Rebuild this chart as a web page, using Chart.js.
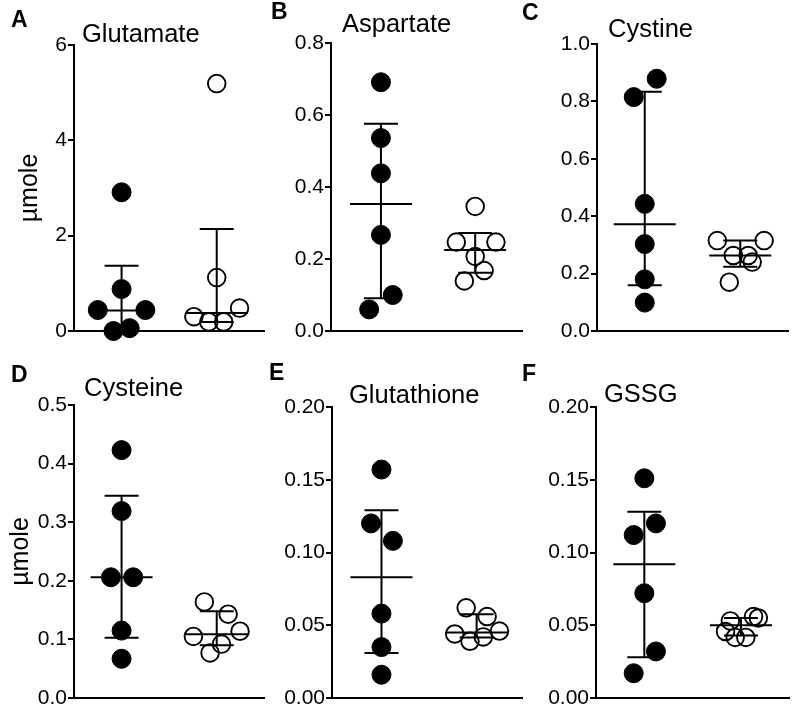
<!DOCTYPE html>
<html>
<head>
<meta charset="utf-8">
<script src="https://cdn.jsdelivr.net/npm/chart.js@4.4.1/dist/chart.umd.min.js"></script>
<style>
html, body { margin: 0; padding: 0; background: #ffffff; }
body { width: 800px; height: 714px; position: relative; overflow: hidden; }
canvas { position: absolute; }
</style>
</head>
<body>
<script>
// ---------------- DATA ----------------
const groups = ['Group 1', 'Group 2'];
const panelLetters = ['A', 'B', 'C', 'D', 'E', 'F'];
const panelTitles = ['Glutamate', 'Aspartate', 'Cystine', 'Cysteine', 'Glutathione', 'GSSG'];
const yAxisTitle = 'µmole';

const ticksA = ['0', '2', '4', '6'];
const ticksB = ['0.0', '0.2', '0.4', '0.6', '0.8'];
const ticksC = ['0.0', '0.2', '0.4', '0.6', '0.8', '1.0'];
const ticksD = ['0.0', '0.1', '0.2', '0.3', '0.4', '0.5'];
const ticksE = ['0.00', '0.05', '0.10', '0.15', '0.20'];
const ticksF = ['0.00', '0.05', '0.10', '0.15', '0.20'];

// Glutamate
const glutamateFilled = [2.91, 0.88, 0.44, 0.44, 0.00, 0.06];
const glutamateOpen   = [5.19, 1.12, 0.30, 0.48, 0.19, 0.19];
const glutamateMedian = [0.43, 0.38];
const glutamateQ1     = [0.045, 0.19];
const glutamateQ3     = [1.37, 2.14];
// Aspartate
const aspartateFilled = [0.691, 0.536, 0.438, 0.267, 0.100, 0.060];
const aspartateOpen   = [0.346, 0.247, 0.247, 0.207, 0.168, 0.139];
const aspartateMedian = [0.353, 0.225];
const aspartateQ1     = [0.091, 0.162];
const aspartateQ3     = [0.576, 0.272];
// Cystine
const cystineFilled = [0.879, 0.815, 0.443, 0.303, 0.180, 0.099];
const cystineOpen   = [0.315, 0.315, 0.263, 0.263, 0.240, 0.170];
const cystineMedian = [0.372, 0.263];
const cystineQ1     = [0.159, 0.224];
const cystineQ3     = [0.834, 0.315];
// Cysteine
const cysteineFilled = [0.423, 0.319, 0.206, 0.206, 0.115, 0.067];
const cysteineOpen   = [0.164, 0.143, 0.114, 0.105, 0.092, 0.077];
const cysteineMedian = [0.206, 0.109];
const cysteineQ1     = [0.103, 0.090];
const cysteineQ3     = [0.345, 0.148];
// Glutathione
const glutathioneFilled = [0.157, 0.120, 0.108, 0.058, 0.035, 0.016];
const glutathioneOpen   = [0.062, 0.056, 0.044, 0.039, 0.042, 0.046];
const glutathioneMedian = [0.083, 0.045];
const glutathioneQ1     = [0.031, 0.0415];
const glutathioneQ3     = [0.129, 0.0576];
// GSSG
const gssgFilled = [0.151, 0.120, 0.112, 0.072, 0.032, 0.017];
const gssgOpen   = [0.053, 0.056, 0.055, 0.0457, 0.0416, 0.0416];
const gssgMedian = [0.092, 0.050];
const gssgQ1     = [0.028, 0.043];
const gssgQ3     = [0.128, 0.055];

// horizontal scatter spread of the dots inside each column (x units)
const spreadA1 = [0, 0, -0.25, 0.25, -0.085, 0.085];
const spreadA2 = [0, 0, -0.24, 0.24, -0.083, 0.073];
const spreadB1 = [0, 0, 0, 0, 0.125, -0.125];
const spreadB2 = [0, -0.2, 0.22, 0, 0.095, -0.115];
const spreadC1 = [0.125, -0.115, 0, 0, 0, 0];
const spreadC2 = [-0.24, 0.25, -0.073, 0.083, 0.125, -0.115];
const spreadD1 = [0, 0, -0.112, 0.122, 0, 0];
const spreadD2 = [-0.13, 0.12, 0.245, -0.245, 0.05, -0.07];
const spreadE1 = [0, -0.11, 0.12, 0, 0, 0];
const spreadE2 = [-0.11, 0.11, -0.23, -0.07, 0.07, 0.24];
const spreadF1 = [0, 0.12, -0.11, 0, 0.12, -0.11];
const spreadF2 = [-0.11, 0.13, 0.18, -0.16, -0.06, 0.05];

// ---------------- LAYOUT (page pixels) ----------------
const FONT = '"Liberation Sans", Arial, Helvetica, sans-serif';
const layouts = [
  {cx: 0,   cy: 0,   cw: 275, ch: 345, axisX: 74,  topY: 45,  bottomY: 331, rightX: 267, xMin: -0.5,  xMax: 1.5,  letter: [11, 27],   title: [82, 42],   yTitle: true,  yTitlePad: 15},
  {cx: 268, cy: 0,   cw: 265, ch: 345, axisX: 331, topY: 43,  bottomY: 331, rightX: 527, xMin: -0.53, xMax: 1.5,  letter: [271, 19],  title: [342, 32],  yTitle: false, yTitlePad: 0},
  {cx: 518, cy: 0,   cw: 282, ch: 345, axisX: 597, topY: 44,  bottomY: 331, rightX: 788, xMin: -0.5,  xMax: 1.5,  letter: [522, 20],  title: [608, 37],  yTitle: false, yTitlePad: 0},
  {cx: 0,   cy: 345, cw: 275, ch: 369, axisX: 74,  topY: 405, bottomY: 698, rightX: 272, xMin: -0.5,  xMax: 1.5,  letter: [11, 382],  title: [84, 396],  yTitle: true,  yTitlePad: 6},
  {cx: 268, cy: 345, cw: 265, ch: 369, axisX: 332, topY: 407, bottomY: 698, rightX: 531, xMin: -0.52, xMax: 1.48, letter: [269, 380], title: [349, 403], yTitle: false, yTitlePad: 0},
  {cx: 518, cy: 345, cw: 282, ch: 369, axisX: 596, topY: 407, bottomY: 698, rightX: 791, xMin: -0.5,  xMax: 1.5,  letter: [522, 381], title: [604, 402], yTitle: false, yTitlePad: 0}
];

function makePanel(idx, ticks, filled, open, spread1, spread2, median, q1, q3) {
  const L = layouts[idx];
  const canvas = document.createElement('canvas');
  canvas.width = L.cw; canvas.height = L.ch;
  canvas.style.left = L.cx + 'px'; canvas.style.top = L.cy + 'px';
  canvas.style.width = L.cw + 'px'; canvas.style.height = L.ch + 'px';
  document.body.appendChild(canvas);
  const tickVals = ticks.map(Number);

  const summaryPlugin = {
    id: 'summaryLines' + idx,
    afterDatasetsDraw(chart) {
      const {ctx} = chart;
      const xs = chart.scales.x, ys = chart.scales.y;
      ctx.save();
      ctx.strokeStyle = '#000';
      ctx.lineWidth = 2;
      for (let g = 0; g < 2; g++) {
        const cx = xs.getPixelForValue(g);
        const ym = ys.getPixelForValue(median[g]);
        const y1 = ys.getPixelForValue(q1[g]);
        const y3 = ys.getPixelForValue(q3[g]);
        ctx.beginPath();
        ctx.moveTo(cx, y1); ctx.lineTo(cx, y3);
        ctx.moveTo(cx - 17, y1); ctx.lineTo(cx + 17, y1);
        ctx.moveTo(cx - 17, y3); ctx.lineTo(cx + 17, y3);
        ctx.moveTo(cx - 31, ym); ctx.lineTo(cx + 31, ym);
        ctx.stroke();
      }
      ctx.restore();
    }
  };
  const textPlugin = {
    id: 'panelText' + idx,
    afterDraw(chart) {
      const ctx = chart.ctx;
      ctx.save();
      ctx.fillStyle = '#000';
      ctx.textAlign = 'left';
      ctx.textBaseline = 'alphabetic';
      ctx.font = 'bold 23px ' + FONT;
      ctx.fillText(panelLetters[idx], L.letter[0] - L.cx, L.letter[1] - L.cy);
      ctx.font = '25.5px ' + FONT;
      ctx.fillText(panelTitles[idx], L.title[0] - L.cx, L.title[1] - L.cy);
      ctx.restore();
    }
  };

  new Chart(canvas, {
    type: 'scatter',
    data: {
      datasets: [
        {
          label: groups[0],
          data: filled.map((v, i) => ({x: 0 + spread1[i], y: v})),
          pointRadius: 9.5, pointBorderWidth: 1,
          pointBackgroundColor: '#000', pointBorderColor: '#000',
          clip: false
        },
        {
          label: groups[1],
          data: open.map((v, i) => ({x: 1 + spread2[i], y: v})),
          pointRadius: 8.8, pointBorderWidth: 1.9,
          pointBackgroundColor: 'rgba(255,255,255,0)', pointBorderColor: '#000',
          clip: false
        }
      ]
    },
    options: {
      responsive: false,
      animation: false,
      devicePixelRatio: 1,
      events: [],
      layout: {
        padding: {
          left: 0,
          top: L.topY - L.cy,
          right: L.cx + L.cw - L.rightX,
          bottom: L.cy + L.ch - L.bottomY
        }
      },
      plugins: { legend: {display: false}, tooltip: {enabled: false}, title: {display: false} },
      scales: {
        x: {
          type: 'linear', min: L.xMin, max: L.xMax,
          ticks: {display: false},
          grid: {display: false},
          border: {display: true, color: '#000', width: 2},
          afterFit(s) { s.height = 0; }
        },
        y: {
          type: 'linear', min: tickVals[0], max: tickVals[tickVals.length - 1],
          afterBuildTicks(s) { s.ticks = tickVals.map(v => ({value: v})); },
          ticks: {
            autoSkip: false,
            callback: (v, i) => ticks[i],
            color: '#000',
            font: {family: FONT, size: 21},
            padding: 1
          },
          grid: {display: true, drawOnChartArea: false, drawTicks: true, tickLength: 6, tickWidth: 2, tickColor: '#000', color: '#000', lineWidth: 2},
          border: {display: true, color: '#000', width: 2},
          title: {
            display: L.yTitle, text: yAxisTitle, color: '#000',
            font: {family: FONT, size: 25},
            padding: {top: L.yTitlePad, bottom: 0}
          },
          afterFit(s) { s.width = L.axisX - L.cx; }
        }
      }
    },
    plugins: [summaryPlugin, textPlugin]
  });
}

makePanel(0, ticksA, glutamateFilled, glutamateOpen, spreadA1, spreadA2, glutamateMedian, glutamateQ1, glutamateQ3);
makePanel(1, ticksB, aspartateFilled, aspartateOpen, spreadB1, spreadB2, aspartateMedian, aspartateQ1, aspartateQ3);
makePanel(2, ticksC, cystineFilled, cystineOpen, spreadC1, spreadC2, cystineMedian, cystineQ1, cystineQ3);
makePanel(3, ticksD, cysteineFilled, cysteineOpen, spreadD1, spreadD2, cysteineMedian, cysteineQ1, cysteineQ3);
makePanel(4, ticksE, glutathioneFilled, glutathioneOpen, spreadE1, spreadE2, glutathioneMedian, glutathioneQ1, glutathioneQ3);
makePanel(5, ticksF, gssgFilled, gssgOpen, spreadF1, spreadF2, gssgMedian, gssgQ1, gssgQ3);
</script>
</body>
</html>
